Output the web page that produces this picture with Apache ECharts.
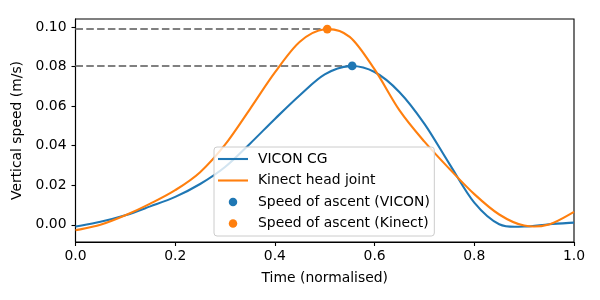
<!DOCTYPE html>
<html>
<head>
<meta charset="utf-8">
<script src="https://cdn.jsdelivr.net/npm/echarts@6/dist/echarts.min.js"></script>
<style>
html,body{margin:0;padding:0;background:#fff;}
#chart{width:600px;height:300px;}
</style>
</head>
<body>
<div id="chart"></div>
<script>
// ---- data ----
const time = [0, 0.05, 0.1, 0.15, 0.2, 0.25, 0.3, 0.35, 0.4, 0.45, 0.5, 0.55, 0.6, 0.65, 0.7, 0.75, 0.8, 0.85, 0.9, 0.95, 1.0];
const viconCG = [-0.0009, 0.0015, 0.0048, 0.0093, 0.0141, 0.0206, 0.0292, 0.0410, 0.0535, 0.0655, 0.0760, 0.0802, 0.0772, 0.0670, 0.0510, 0.0308, 0.0112, 0.0003, -0.0009, 0.0003, 0.0011];
const kinectHead = [-0.0028, 0.0000, 0.0048, 0.0107, 0.0175, 0.0266, 0.0405, 0.0585, 0.0770, 0.0925, 0.0988, 0.0950, 0.0785, 0.0578, 0.0420, 0.0283, 0.0155, 0.0052, -0.0004, 0.0002, 0.0065];
const peakVicon = [0.555, 0.0803];   // [time, speed]
const peakKinect = [0.505, 0.0989];
const xTicks = [0, 0.2, 0.4, 0.6, 0.8, 1.0];
const yTicks = [0, 0.02, 0.04, 0.06, 0.08, 0.10];
const seriesNames = ['VICON CG', 'Kinect head joint', 'Speed of ascent (VICON)', 'Speed of ascent (Kinect)'];

const BLUE = '#1f77b4', ORANGE = '#ff7f0e', GRAY = '#808080';
const FONT = 'DejaVu Sans';
const FS = 13.9;
const LINE_ICON = 'path://M0,0H30V2.1H0Z';

// smooth curve (Catmull-Rom) through the data, positioned by the chart's own axes via api.coord
function curveSeries(name, xs, ys, color) {
  return {
    name: name, type: 'custom', coordinateSystem: 'cartesian2d', z: 2, silent: true,
    itemStyle: {color: color},
    data: xs.map((x, i) => [x, ys[i]]),
    renderItem: function (params, api) {
      if (params.dataIndex !== 0) return null;
      const p = xs.map((x, i) => api.coord([x, ys[i]]));
      let d = 'M' + p[0][0] + ',' + p[0][1];
      for (let i = 0; i < p.length - 1; i++) {
        const p0 = p[Math.max(i - 1, 0)], p1 = p[i], p2 = p[i + 1], p3 = p[Math.min(i + 2, p.length - 1)];
        const c1x = p1[0] + (p2[0] - p0[0]) / 6, c1y = p1[1] + (p2[1] - p0[1]) / 6;
        const c2x = p2[0] - (p3[0] - p1[0]) / 6, c2y = p2[1] - (p3[1] - p1[1]) / 6;
        d += ' C' + c1x + ',' + c1y + ' ' + c2x + ',' + c2y + ' ' + p2[0] + ',' + p2[1];
      }
      return {type: 'path', shape: {pathData: d}, style: {stroke: color, lineWidth: 2.1, fill: null}};
    }
  };
}

const chart = echarts.init(document.getElementById('chart'), null, {renderer: 'canvas'});
chart.setOption({
  animation: false,
  backgroundColor: '#fff',
  textStyle: {fontFamily: FONT},
  grid: {left: 75.5, right: 26, top: 19, bottom: 58, show: true, borderColor: '#000', borderWidth: 1.1, backgroundColor: 'transparent'},
  xAxis: {
    type: 'value', min: 0, max: 1, interval: 0.2,
    name: 'Time (normalised)', nameLocation: 'middle', nameGap: 29,
    nameTextStyle: {fontFamily: FONT, fontSize: FS, color: '#000'},
    axisLine: {show: true, onZero: false, lineStyle: {color: '#000', width: 1.1}},
    axisTick: {show: true, inside: false, length: 4, lineStyle: {color: '#000', width: 1.1}, customValues: xTicks},
    axisLabel: {show: true, margin: 7, fontFamily: FONT, fontSize: FS, color: '#000', customValues: xTicks, formatter: v => v.toFixed(1)},
    splitLine: {show: false}
  },
  yAxis: {
    type: 'value', min: -0.0087, max: 0.104,
    name: 'Vertical speed (m/s)', nameLocation: 'middle', nameGap: 44,
    nameTextStyle: {fontFamily: FONT, fontSize: FS, color: '#000'},
    axisLine: {show: true, onZero: false, lineStyle: {color: '#000', width: 1.1}},
    axisTick: {show: true, inside: false, length: 4, lineStyle: {color: '#000', width: 1.1}, customValues: yTicks},
    axisLabel: {show: true, margin: 9, fontFamily: FONT, fontSize: FS, color: '#000', customValues: yTicks, formatter: v => v.toFixed(2)},
    splitLine: {show: false}
  },
  legend: {
    left: 214, top: 147,
    orient: 'vertical',
    padding: [5, 4.5, 5.5, 4],
    itemWidth: 30, itemHeight: 8.5, itemGap: 7.5,
    backgroundColor: 'rgba(255,255,255,0.8)',
    borderColor: '#cccccc', borderWidth: 1, borderRadius: 3,
    itemStyle: {borderWidth: 0},
    textStyle: {fontFamily: FONT, fontSize: FS, color: '#000', lineHeight: 14, padding: [0, 0, 0, 5]},
    data: [
      {name: seriesNames[0], icon: LINE_ICON},
      {name: seriesNames[1], icon: LINE_ICON},
      {name: seriesNames[2], icon: 'circle'},
      {name: seriesNames[3], icon: 'circle'}
    ]
  },
  series: [
    {
      name: 'vline1', type: 'line', silent: true, symbol: 'none', z: 1,
      data: [[0, peakKinect[1]], [peakKinect[0], peakKinect[1]]],
      lineStyle: {color: GRAY, width: 2, type: [7.5, 3.3]}
    },
    {
      name: 'vline2', type: 'line', silent: true, symbol: 'none', z: 1,
      data: [[0, peakVicon[1]], [peakVicon[0], peakVicon[1]]],
      lineStyle: {color: GRAY, width: 2, type: [7.5, 3.3]}
    },
    curveSeries(seriesNames[0], time, viconCG, BLUE),
    curveSeries(seriesNames[1], time, kinectHead, ORANGE),
    {
      name: seriesNames[2], type: 'scatter', symbol: 'circle', symbolSize: 8.7, z: 3,
      data: [peakVicon], itemStyle: {color: BLUE, opacity: 1}
    },
    {
      name: seriesNames[3], type: 'scatter', symbol: 'circle', symbolSize: 8.7, z: 3,
      data: [peakKinect], itemStyle: {color: ORANGE, opacity: 1}
    }
  ]
});
</script>
</body>
</html>
